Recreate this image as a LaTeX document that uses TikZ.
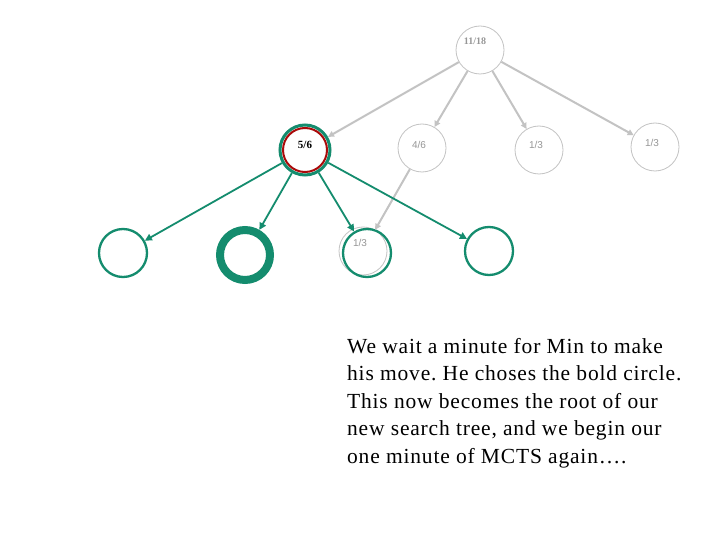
\documentclass[tikz,border=0pt]{standalone}
\usepackage{fontspec}
\setmainfont{Liberation Serif}
\newfontfamily\lsans{Liberation Sans}
\newfontfamily\spaced[LetterSpace=3.8]{Liberation Serif}
\usetikzlibrary{arrows.meta}
\definecolor{tgreen}{RGB}{20,140,110}
\definecolor{dred}{RGB}{170,10,10}
\definecolor{lgray}{RGB}{195,195,195}
\definecolor{tgray}{RGB}{150,150,150}
\tikzset{
  gnode/.style={circle,draw=lgray,line width=0.8pt,minimum size=48pt,inner sep=0pt},
  glabel/.style={font=\lsans\fontsize{10}{12}\selectfont,text=tgray},
  grnode/.style={circle,draw=tgreen,line width=2.3pt,minimum size=48pt,inner sep=0pt},
  garrow/.style={draw=lgray,line width=2pt,-{Triangle[length=6pt,width=6pt]}},
  grarrow/.style={draw=tgreen,line width=1.8pt,-{Triangle[length=7pt,width=7pt]}}
}
\begin{document}
\begin{tikzpicture}[x=1pt,y=-1pt]
\useasboundingbox[fill=white] (0,0) rectangle (720,540);
% root
\node[gnode] (root) at (480,50) {};
\node[font=\bfseries\fontsize{10}{12}\selectfont,text=tgray] (rootlab) at (475,41) {11/18};
% level 1
\node[circle,draw=tgreen,line width=3pt,minimum size=50pt,inner sep=0pt] (a) at (305,150) {};
\node[circle,draw=dred,line width=2pt,minimum size=44pt,inner sep=0pt] (ain) at (305,150) {};
\node[font=\bfseries\fontsize{11}{12}\selectfont] (alab) at (305,145) {5/6};
\node[gnode] (b) at (422,148) {};
\node[glabel] (blab) at (419,145) {4/6};
\node[gnode] (c) at (539,150) {};
\node[glabel] (clab) at (536,145) {1/3};
\node[gnode] (d) at (655,147) {};
\node[glabel] (dlab) at (652,143) {1/3};
% level 2
\node[grnode] (e) at (123,253) {};
\node[circle,draw=tgreen,line width=8pt,minimum size=50pt,inner sep=0pt] (f) at (245,255) {};
\node[gnode] (hg) at (363,251) {};
\node[glabel] (hglab) at (360,243) {1/3};
\node[grnode] (g) at (367,253) {};
\node[grnode] (h) at (489,251) {};
% gray arrows
\draw[garrow] (root) -- (a);
\draw[garrow] (root) -- (b);
\draw[garrow] (root) -- (c);
\draw[garrow] (root) -- (d);
\draw[garrow] (b) -- (hg);
% green arrows
\draw[grarrow] (a) -- (e);
\draw[grarrow] (a) -- (f);
\draw[grarrow] (a) -- (g);
\draw[grarrow] (a) -- (h);
% text
\node[anchor=base west,align=left,inner sep=0pt,font=\spaced\frenchspacing\fontsize{21.5}{27.5}\selectfont] (txt) at (347,463) {We wait a minute for Min to make\\his move. He choses the bold circle.\\This now becomes the root of our\\new search tree, and we begin our\\one minute of MCTS again\dots.};
\end{tikzpicture}
\end{document}
